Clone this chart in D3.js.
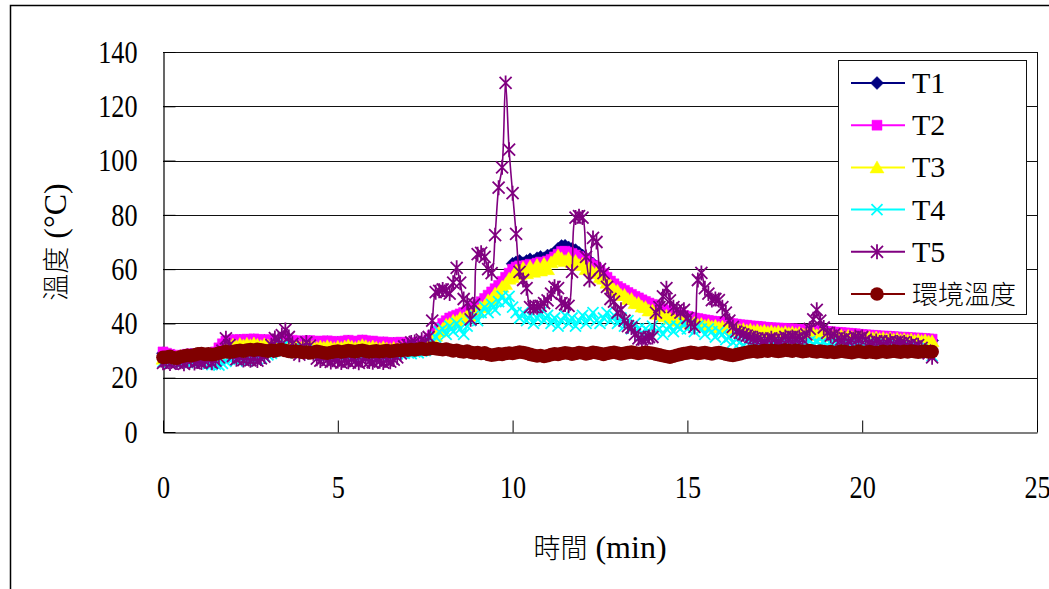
<!DOCTYPE html>
<html>
<head>
<meta charset="utf-8">
<script src="https://cdn.jsdelivr.net/npm/d3@7"></script>
<style>
  body { margin: 0; background: #fff; }
  svg { display: block; }
  .axis path, .axis line { stroke: #000; }
  .serif { font-family: "Liberation Serif", "Times New Roman", Times, "DejaVu Serif", serif; }
  .cjk { font-family: "Noto Sans CJK TC", "Noto Sans CJK SC", sans-serif; font-weight: 300; }
  .tick text { font-family: "Liberation Serif", "Times New Roman", Times, "DejaVu Serif", serif; font-size: 32px; fill: #000; }
</style>
</head>
<body>
<svg width="1049" height="589"></svg>
<script>
// sampling: one reading every 0.1 min, from 0 to 22 min
var stepMin = 0.1;

var xTicks = [0, 5, 10, 15, 20, 25],
    yTicks = [0, 20, 40, 60, 80, 100, 120, 140];

var seriesNames = ["T1", "T2", "T3", "T4", "T5", "環境溫度"],
    seriesColors = ["#000080", "#ff00ff", "#ffff00", "#00ffff", "#800080", "#800000"];

var t1 = [
  29.0, 28.6, 28.2, 28.0, 27.8, 28.0, 28.2, 28.3, 28.5, 28.2,
  28.4, 28.6, 28.3, 28.5, 28.7, 29.1, 30.5, 32.0, 33.0, 33.3,
  33.5, 33.1, 33.6, 33.3, 33.7, 33.4, 33.8, 33.5, 33.2, 33.6,
  33.3, 33.0, 33.4, 33.1, 33.5, 33.2, 32.9, 33.3, 33.0, 32.7,
  33.1, 32.8, 33.2, 32.9, 32.6, 33.0, 32.7, 33.1, 32.8, 32.5,
  32.9, 32.6, 33.0, 33.3, 32.9, 32.6, 33.0, 33.4, 33.1, 32.7,
  33.0, 32.6, 32.3, 32.7, 32.4, 32.1, 32.5, 32.2, 32.6, 32.3,
  32.0, 32.4, 32.1, 32.5, 32.3, 32.7, 33.4, 35.0, 36.4, 38.0,
  39.4, 40.5, 41.4, 42.0, 42.5, 43.0, 43.5, 44.1, 44.7, 45.5,
  46.4, 47.5, 48.6, 49.9, 51.0, 52.3, 53.5, 55.0, 56.4, 58.0,
  62.0, 62.5, 63.0, 62.2, 63.0, 63.6, 63.0, 64.0, 64.5, 64.0,
  65.0, 65.3, 66.0, 67.5, 68.5, 68.6, 68.0, 67.5, 67.0, 66.0,
  65.0, 64.0, 63.0, 62.0, 61.0, 59.5, 58.0, 56.8, 55.2, 54.1,
  53.1, 52.4, 51.7, 50.9, 50.2, 49.5, 48.9, 48.2, 47.6, 47.0,
  46.5, 45.9, 45.4, 44.8, 44.3, 43.8, 43.5, 43.1, 42.7, 42.4,
  42.1, 41.8, 41.5, 41.3, 41.0, 40.8, 40.6, 40.4, 40.2, 40.1,
  40.0, 39.8, 39.6, 39.4, 39.2, 39.0, 38.9, 38.8, 38.6, 38.5,
  38.4, 38.3, 38.1, 38.0, 37.9, 37.8, 37.8, 37.7, 37.6, 37.5,
  37.5, 37.4, 37.3, 37.2, 37.1, 37.0, 36.9, 36.8, 36.7, 36.6,
  36.5, 36.4, 36.3, 36.2, 36.1, 36.0, 35.9, 35.8, 35.7, 35.5,
  35.4, 35.3, 35.2, 35.1, 35.0, 34.9, 34.8, 34.8, 34.7, 34.6,
  34.5, 34.4, 34.4, 34.3, 34.2, 34.1, 34.1, 34.0, 33.9, 33.8,
  33.7
];

var t2 = [
  29.5, 29.0, 28.6, 28.3, 28.0, 28.2, 28.4, 28.6, 28.8, 28.5,
  28.7, 28.9, 28.6, 28.8, 29.0, 29.5, 31.0, 32.5, 33.5, 33.8,
  34.0, 33.6, 34.1, 33.8, 34.2, 33.9, 34.3, 34.0, 33.7, 34.1,
  33.8, 33.5, 33.9, 33.6, 34.0, 33.7, 33.4, 33.8, 33.5, 33.2,
  33.6, 33.3, 33.7, 33.4, 33.1, 33.5, 33.2, 33.6, 33.3, 33.0,
  33.4, 33.1, 33.5, 33.8, 33.4, 33.1, 33.5, 33.9, 33.6, 33.2,
  33.5, 33.1, 32.8, 33.2, 32.9, 32.6, 33.0, 32.7, 33.1, 32.8,
  32.5, 32.9, 32.6, 33.0, 32.8, 33.2, 34.0, 35.5, 37.0, 38.5,
  40.0, 41.0, 42.0, 42.5, 43.0, 43.5, 44.0, 44.6, 45.2, 46.0,
  47.0, 48.0, 49.2, 50.4, 51.6, 52.8, 54.0, 55.5, 57.0, 58.5,
  60.0, 60.8, 61.2, 60.6, 61.4, 61.8, 61.3, 62.2, 62.6, 62.1,
  63.0, 63.6, 64.5, 65.5, 66.5, 66.6, 66.2, 65.8, 65.2, 64.6,
  64.0, 63.2, 62.2, 61.3, 60.4, 59.5, 58.3, 57.0, 55.6, 54.6,
  53.6, 52.9, 52.2, 51.4, 50.7, 50.0, 49.4, 48.7, 48.1, 47.5,
  47.0, 46.4, 45.9, 45.3, 44.8, 44.3, 44.0, 43.6, 43.2, 42.9,
  42.6, 42.3, 42.0, 41.8, 41.5, 41.3, 41.1, 40.9, 40.7, 40.6,
  40.5, 40.3, 40.1, 39.9, 39.7, 39.5, 39.4, 39.3, 39.1, 39.0,
  38.9, 38.8, 38.6, 38.5, 38.4, 38.3, 38.3, 38.2, 38.1, 38.0,
  38.0, 37.9, 37.8, 37.7, 37.6, 37.5, 37.4, 37.3, 37.2, 37.1,
  37.0, 36.9, 36.8, 36.7, 36.6, 36.5, 36.4, 36.3, 36.2, 36.0,
  35.9, 35.8, 35.7, 35.6, 35.5, 35.4, 35.3, 35.3, 35.2, 35.1,
  35.0, 34.9, 34.9, 34.8, 34.7, 34.6, 34.6, 34.5, 34.4, 34.3,
  34.2
];

var t3 = [
  27.0, 27.4, 27.8, 27.2, 27.6, 28.0, 27.5, 27.9, 28.2, 27.7,
  28.1, 27.6, 28.0, 27.4, 27.8, 27.2, 27.6, 29.5, 31.0, 31.8,
  32.2, 31.6, 32.4, 31.9, 32.5, 32.0, 32.6, 32.1, 31.7, 32.3,
  31.9, 31.5, 32.1, 31.6, 32.2, 31.8, 31.4, 31.9, 31.5, 31.2,
  31.7, 31.3, 31.8, 31.4, 31.0, 31.5, 31.1, 31.6, 31.2, 30.9,
  31.4, 31.0, 31.5, 31.9, 31.4, 31.0, 31.5, 32.0, 31.6, 31.1,
  31.5, 31.0, 30.7, 31.2, 30.8, 30.5, 31.0, 30.6, 31.1, 30.7,
  30.5, 31.0, 30.6, 31.1, 30.9, 31.4, 32.5, 34.0, 35.5, 37.0,
  38.0, 39.5, 39.8, 41.0, 40.8, 42.0, 41.8, 43.0, 42.8, 44.0,
  44.5, 46.0, 46.5, 48.5, 49.0, 51.0, 51.5, 53.5, 54.5, 56.5,
  57.0, 59.5, 58.0, 60.5, 58.5, 61.0, 59.0, 61.5, 59.5, 62.0,
  60.0, 62.5, 63.5, 65.0, 64.0, 63.0, 64.0, 62.5, 63.0, 61.5,
  62.0, 60.0, 60.5, 58.5, 58.8, 57.0, 56.5, 55.0, 54.0, 52.5,
  52.0, 50.5, 50.5, 49.0, 49.0, 47.5, 47.5, 46.2, 46.0, 44.8,
  44.8, 43.6, 43.8, 42.6, 42.8, 41.8, 42.0, 41.0, 41.3, 40.4,
  40.7, 39.9, 40.2, 39.5, 39.8, 39.1, 39.4, 38.8, 39.1, 38.5,
  38.8, 38.2, 38.5, 37.9, 38.2, 37.6, 37.9, 37.4, 37.7, 37.2,
  37.5, 37.0, 37.3, 36.8, 37.1, 36.7, 37.0, 36.5, 36.8, 36.4,
  36.7, 36.2, 36.5, 36.0, 36.3, 35.9, 36.2, 35.7, 36.0, 35.6,
  35.9, 35.4, 35.7, 35.2, 35.5, 35.1, 35.4, 34.9, 35.2, 34.8,
  35.1, 34.6, 34.9, 34.5, 34.8, 34.3, 34.6, 34.2, 34.5, 34.1,
  34.4, 33.9, 34.2, 33.8, 34.1, 33.6, 33.9, 33.5, 33.8, 33.3,
  33.4
];

var t4 = [
  25.8, 26.2, 25.5, 26.0, 26.4, 25.7, 26.1, 25.6, 26.3, 25.9,
  26.2, 25.8, 26.4, 25.2, 24.8, 25.0, 24.6, 25.3, 26.0, 26.8,
  27.0, 26.5, 27.2, 26.6, 26.1, 26.8, 27.3, 26.9, 27.5, 28.0,
  28.4, 29.0, 29.8, 30.6, 31.5, 32.5, 31.2, 30.0, 29.2, 30.0,
  30.6, 30.0, 29.5, 28.8, 29.3, 28.6, 29.1, 28.4, 28.9, 28.2,
  28.7, 28.3, 28.9, 28.5, 29.0, 28.4, 28.8, 28.2, 28.6, 28.9,
  28.5, 28.9, 28.3, 28.7, 29.1, 28.6, 29.0, 28.8, 29.2, 29.0,
  29.3, 28.9, 29.5, 29.2, 29.8, 30.0, 31.0, 33.0, 35.0, 37.0,
  38.0, 36.0, 39.0, 37.0, 40.0, 38.0, 36.0, 39.0, 41.0, 43.0,
  41.0, 44.0, 46.0, 44.0, 47.0, 45.0, 48.0, 50.0, 48.0, 50.0,
  46.0, 44.0, 42.0, 44.0, 41.0, 43.0, 40.0, 42.0, 44.0, 41.0,
  43.0, 40.0, 42.0, 39.0, 41.0, 43.0, 40.0, 42.0, 39.0, 41.0,
  43.0, 40.0, 42.0, 44.0, 41.0, 40.0, 42.0, 44.0, 41.0, 43.0,
  40.0, 42.0, 39.0, 41.0, 38.0, 40.0, 38.0, 36.0, 38.0, 37.0,
  39.0, 37.0, 38.0, 36.0, 38.0, 39.0, 37.0, 39.0, 38.0, 40.0,
  38.0, 40.0, 37.0, 39.0, 38.0, 36.0, 38.0, 37.0, 35.0, 37.0,
  36.0, 34.0, 35.0, 33.0, 34.0, 33.0, 32.0, 33.0, 32.0, 32.5,
  33.0, 32.0, 32.5, 31.8, 32.5, 33.0, 32.2, 32.8, 32.0, 32.6,
  33.0, 32.4, 32.8, 32.2, 33.0, 33.4, 32.6, 33.0, 32.4, 32.8,
  32.2, 32.6, 32.0, 32.5, 31.8, 32.3, 32.0, 32.6, 31.9, 32.4,
  32.0, 31.6, 32.2, 31.8, 32.4, 31.9, 31.5, 32.0, 31.6, 32.1,
  31.7, 31.3, 31.8, 31.4, 31.0, 31.5, 30.8, 30.4, 29.8, 29.2,
  28.0
];

var t5 = [
  25.5, 26.0, 25.2, 26.3, 25.6, 25.9, 25.1, 26.2, 26.5, 25.4,
  26.0, 25.6, 26.1, 26.6, 25.5, 26.3, 27.5, 30.0, 34.5, 32.0,
  28.0, 26.8, 27.5, 26.5, 27.2, 26.4, 27.0, 26.3, 27.1, 27.8,
  29.5, 32.0, 34.6, 34.0, 35.7, 37.6, 35.0, 32.5, 30.0, 28.5,
  31.5, 33.0, 31.8, 29.0, 27.0, 26.3, 27.2, 26.5, 25.8, 26.6,
  26.2, 25.6, 26.4, 25.9, 26.8, 26.1, 25.5, 26.3, 26.9, 26.0,
  25.7, 26.5, 26.1, 25.6, 26.4, 25.9, 26.7, 27.5, 29.0, 31.5,
  32.0, 33.0, 33.2, 32.0, 34.0, 33.0, 35.0, 41.0, 51.5, 52.0,
  52.5, 52.0, 51.0, 55.0, 60.5, 55.0, 49.0, 47.5, 41.5, 47.0,
  65.5, 66.0, 64.5, 60.0, 58.5, 72.5, 90.0, 97.5, 128.6, 104.0,
  88.0, 73.0, 59.0, 56.0, 53.0, 46.0, 46.0, 46.0, 46.5, 47.5,
  48.5, 51.0, 53.5, 53.0, 47.5, 47.0, 46.5, 59.0, 79.0, 79.5,
  79.0, 64.5, 56.0, 71.5, 70.0, 60.0, 58.5, 53.5, 49.0, 48.0,
  44.0, 45.0, 41.0, 39.0, 38.5, 36.0, 34.5, 34.0, 34.5, 35.0,
  35.0, 44.0, 46.0, 50.0, 53.0, 48.5, 46.0, 45.0, 44.0, 45.0,
  42.0, 40.0, 38.7, 56.0, 58.6, 53.0, 51.0, 48.6, 49.0, 48.6,
  46.0, 44.0, 41.0, 38.7, 37.0, 36.5, 36.0, 35.5, 35.0, 34.5,
  34.5, 34.0, 33.5, 34.0, 34.5, 34.0, 33.5, 34.0, 35.0, 34.5,
  35.0, 34.5, 35.0, 34.0, 36.0, 38.0, 41.5, 45.0, 41.0, 38.5,
  36.5, 35.5, 36.0, 34.5, 34.0, 34.5, 33.5, 34.0, 35.0, 34.5,
  35.0, 34.0, 33.0, 32.8, 33.5, 33.0, 32.5, 33.0, 33.5, 32.5,
  33.0, 32.8, 33.0, 32.0, 32.5, 31.5, 32.0, 31.0, 30.0, 29.0,
  27.5
];

var ambient = [
  27.5, 27.6, 27.9, 27.3, 27.2, 27.7, 28.0, 28.3, 28.1, 28.4,
  28.8, 28.9, 28.6, 28.8, 28.5, 28.7, 29.1, 29.4, 29.6, 29.4,
  29.6, 29.9, 30.1, 29.8, 30.2, 30.4, 30.1, 30.5, 30.3, 30.0,
  29.8, 30.1, 29.9, 30.2, 30.4, 30.0, 29.7, 29.5, 29.8, 29.6,
  29.3, 29.5, 29.1, 29.4, 29.7, 29.5, 29.2, 29.0, 29.3, 29.6,
  29.8, 29.5, 29.7, 30.0, 29.8, 29.6, 29.9, 30.1, 29.8, 29.5,
  29.7, 29.9, 29.6, 29.8, 30.0, 29.7, 29.9, 30.2, 30.0, 30.3,
  30.1, 30.4, 30.2, 30.5, 30.7, 30.4, 30.6, 30.9, 30.7, 30.5,
  30.3, 30.6, 30.2, 29.9, 30.1, 29.7, 29.5, 29.8, 29.4, 29.1,
  29.3, 28.9, 29.2, 28.6, 28.3, 28.5, 28.8, 28.6, 28.9, 29.1,
  28.9, 29.2, 29.5, 29.3, 29.0, 28.6, 28.3, 28.0, 28.2, 27.8,
  28.1, 28.5, 28.8, 28.6, 28.9, 29.2, 29.0, 28.7, 28.9, 29.3,
  29.1, 28.8, 29.0, 29.4, 29.2, 28.9, 28.6, 28.9, 29.2, 29.4,
  29.1, 28.8, 29.0, 29.3, 29.5, 29.2, 28.9, 29.1, 29.4, 29.2,
  29.0, 28.7, 28.4, 28.1, 27.8, 27.6, 27.9, 28.3, 28.6, 28.9,
  29.1, 29.4, 29.2, 28.9, 29.1, 29.3, 29.0, 28.8, 29.1, 29.3,
  29.0, 28.7, 28.4, 28.2, 28.5, 28.8, 29.1, 29.4, 29.6, 29.8,
  29.5, 29.7, 30.0, 29.8, 30.1, 29.9, 29.7, 29.9, 30.2, 30.0,
  29.8, 30.1, 29.9, 29.6, 29.8, 30.0, 29.7, 29.5, 29.8, 29.6,
  29.4, 29.6, 29.3, 29.5, 29.8, 29.6, 29.4, 29.2, 29.5, 29.7,
  29.5, 29.3, 29.6, 29.4, 29.2, 29.5, 29.7, 29.4, 29.6, 29.8,
  29.6, 29.4, 29.7, 29.5, 29.8, 29.6, 29.4, 29.6, 29.8, 29.5,
  29.6
];

var seriesValues = [t1, t2, t3, t4, t5, ambient];

// marker shapes (Excel style), drawn around 0,0
var markerPaths = [
  "M0,-6.5L6.5,0L0,6.5L-6.5,0Z",
  "M-5,-5H5V5H-5Z",
  "M0,-6.5L7,5.5H-7Z",
  "M-5.5,-5.5L5.5,5.5M5.5,-5.5L-5.5,5.5",
  "M-6,-6L6,6M6,-6L-6,6M0,-7.5V7.5",
  null
];
var markerFilled = [true, true, true, false, false, true];

var svg = d3.select("svg"),
    margin = { top: 52, right: 12, bottom: 157, left: 163 },
    width = +svg.attr("width") - margin.left - margin.right,
    height = +svg.attr("height") - margin.top - margin.bottom;

var x = d3.scaleLinear().domain([0, 25]).range([0, width]),
    y = d3.scaleLinear().domain([0, 140]).range([height, 0]);

// outer chart frame (cut off at right and bottom)
svg.append("path")
    .attr("d", "M10.5,589V5.5H1049")
    .attr("fill", "none")
    .attr("stroke", "#000")
    .attr("stroke-width", 1.5);

var g = svg.append("g")
    .attr("transform", "translate(" + margin.left + "," + margin.top + ")");

// gridlines
g.append("g")
    .selectAll("line")
    .data(yTicks.slice(1))
    .enter().append("line")
    .attr("x1", 0)
    .attr("x2", width)
    .attr("y1", function (d) { return Math.round(y(d)) + 0.5; })
    .attr("y2", function (d) { return Math.round(y(d)) + 0.5; })
    .attr("stroke", "#111")
    .attr("stroke-width", 1);

// right border of plot area
g.append("line")
    .attr("x1", width + 0.5).attr("x2", width + 0.5)
    .attr("y1", 0).attr("y2", height)
    .attr("stroke", "#111");

var sx = 0.82;

var xAxis = g.append("g")
    .attr("class", "axis axis--x")
    .attr("transform", "translate(0," + (height + 0.5) + ")")
    .call(d3.axisBottom(x).tickValues(xTicks).tickSize(-12).tickPadding(43).tickSizeOuter(0));
xAxis.attr("font-family", null);
xAxis.selectAll(".tick text").attr("transform", "scale(" + sx + ",1)");

var yAxis = g.append("g")
    .attr("class", "axis axis--y")
    .attr("transform", "translate(0.5,0)")
    .call(d3.axisLeft(y).tickValues(yTicks).tickSize(-12).tickPadding(26).tickSizeOuter(0));
yAxis.attr("font-family", null);
yAxis.selectAll(".tick text")
    .attr("x", -26 / sx)
    .attr("transform", "scale(" + sx + ",1)");
svg.selectAll(".axis .domain").attr("stroke-width", 1.2);

// series
seriesValues.forEach(function (values, s) {
  var line = d3.line()
      .x(function (d, i) { return x(i * stepMin); })
      .y(function (d) { return y(d); });
  if (s === 4) line.curve(d3.curveCatmullRom.alpha(0.5));

  var sg = g.append("g").attr("class", "series s" + s);

  sg.append("path")
      .datum(values)
      .attr("fill", "none")
      .attr("stroke", seriesColors[s])
      .attr("stroke-width", s === 4 ? 1.6 : 2)
      .attr("d", line);

  var pts = sg.selectAll(".pt")
      .data(values)
      .enter();

  if (markerPaths[s] === null) {
    pts.append("circle")
        .attr("cx", function (d, i) { return x(i * stepMin); })
        .attr("cy", function (d) { return y(d); })
        .attr("r", 6.8)
        .attr("fill", seriesColors[s]);
  } else {
    pts.append("path")
        .attr("transform", function (d, i) { return "translate(" + x(i * stepMin) + "," + y(d) + ")"; })
        .attr("d", markerPaths[s])
        .attr("fill", markerFilled[s] ? seriesColors[s] : "none")
        .attr("stroke", seriesColors[s])
        .attr("stroke-width", markerFilled[s] ? 0.5 : 1.8);
  }
});

// axis titles
var xTitle = svg.append("text")
    .attr("class", "serif")
    .attr("x", 600)
    .attr("y", 558)
    .attr("text-anchor", "middle")
    .style("font-size", "32px");
xTitle.append("tspan").attr("class", "cjk").style("font-size", "27px").text("時間");
xTitle.append("tspan").text(" (min)");

var yTitle = svg.append("text")
    .attr("class", "serif")
    .attr("transform", "translate(66,242) rotate(-90)")
    .attr("text-anchor", "middle")
    .style("font-size", "32px");
yTitle.append("tspan").attr("class", "cjk").style("font-size", "27px").text("溫度");
yTitle.append("tspan").text(" (°C)");

// legend
var legend = svg.append("g").attr("transform", "translate(838,60)");
legend.append("rect")
    .attr("x", 0.5).attr("y", 0.5)
    .attr("width", 188).attr("height", 254)
    .attr("fill", "#fff")
    .attr("stroke", "#111");

var item = legend.selectAll(".item")
    .data(seriesNames)
    .enter().append("g")
    .attr("transform", function (d, i) { return "translate(0," + (23 + i * 42.2) + ")"; });

item.append("line")
    .attr("x1", 13).attr("x2", 67)
    .attr("stroke", function (d, i) { return seriesColors[i]; })
    .attr("stroke-width", 2);

item.each(function (d, i) {
  var it = d3.select(this);
  if (markerPaths[i] === null) {
    it.append("circle").attr("cx", 39).attr("r", 6.8).attr("fill", seriesColors[i]);
  } else {
    it.append("path")
        .attr("transform", "translate(39,0)")
        .attr("d", markerPaths[i])
        .attr("fill", markerFilled[i] ? seriesColors[i] : "none")
        .attr("stroke", seriesColors[i])
        .attr("stroke-width", markerFilled[i] ? 0.5 : 1.8);
  }
});

item.append("text")
    .attr("class", function (d, i) { return i === 5 ? "cjk" : "serif"; })
    .attr("x", 74)
    .attr("y", 10)
    .style("font-size", function (d, i) { return i === 5 ? "26px" : "30px"; })
    .text(function (d) { return d; });
</script>
</body>
</html>
